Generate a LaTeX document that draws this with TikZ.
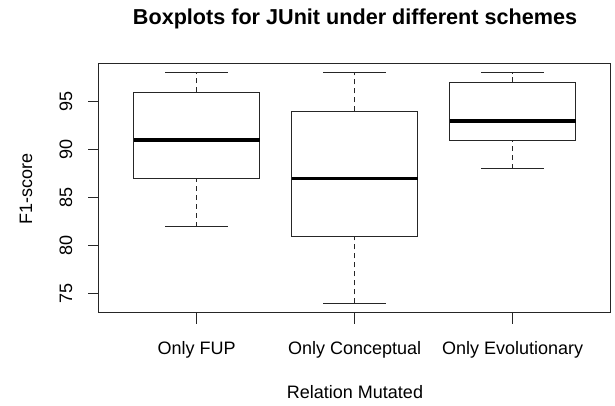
\documentclass[tikz,border=0pt]{standalone}
\usepackage{fontspec}
\setmainfont{Liberation Sans}
\tikzset{
  plotframe/.style={draw=black!85, line width=1pt},
  boxline/.style={draw=black!85, line width=1pt},
  whisker/.style={black!85, line width=1pt, dash pattern=on 5pt off 4pt},
  medianline/.style={black, line width=3.5pt},
  tickmark/.style={black!85, line width=1pt},
  lbl/.style={inner sep=0pt, font=\fontsize{18}{20}\selectfont}
}
\begin{document}
\begin{tikzpicture}[x=1pt,y=1pt]
\useasboundingbox (0,0) rectangle (615,405);
\node [anchor=base, inner sep=0pt, font=\bfseries\fontsize{21.6}{24}\selectfont] (title) at (355,380) {Boxplots for JUnit under different schemes};
\node [lbl, anchor=base, rotate=90] (ylab) at (32,216) {F1-score};
\node [lbl, anchor=base] (xlab) at (355,6.7) {Relation Mutated};
% data coordinates: categories along x, F1-score along y
\begin{scope}[x=158pt, y=9.6pt, shift={(38.7pt,-608.7pt)}]
\draw [plotframe] (0.38,73.04) rectangle (3.62,98.96);
\foreach \v in {75,80,...,95} {
  \draw [tickmark] (0.38,\v) -- ++(-11pt,0);
  \node [lbl, anchor=base, rotate=90] (ytick\v) at ([xshift=-26.7pt]0.38,\v) {\v};
}
\foreach \i/\lo/\qa/\md/\qb/\hi/\name in {1/82/87/91/96/98/Only FUP, 2/74/81/87/94/98/Only Conceptual, 3/88/91/93/97/98/Only Evolutionary} {
  \draw [tickmark] (\i,73.04) -- ++(0,-11pt);
  \node [lbl, anchor=base] (xtick\i) at ([yshift=-41.5pt]\i,73.04) {\name};
  \draw [whisker] (\i,\lo) -- (\i,\qa) (\i,\qb) -- (\i,\hi);
  \draw [boxline] (\i-0.2,\lo) -- (\i+0.2,\lo) (\i-0.2,\hi) -- (\i+0.2,\hi);
  \draw [boxline, fill=white] (\i-0.4,\qa) rectangle (\i+0.4,\qb);
  \draw [medianline] (\i-0.4,\md) -- (\i+0.4,\md);
}
\end{scope}
\end{tikzpicture}
\end{document}
